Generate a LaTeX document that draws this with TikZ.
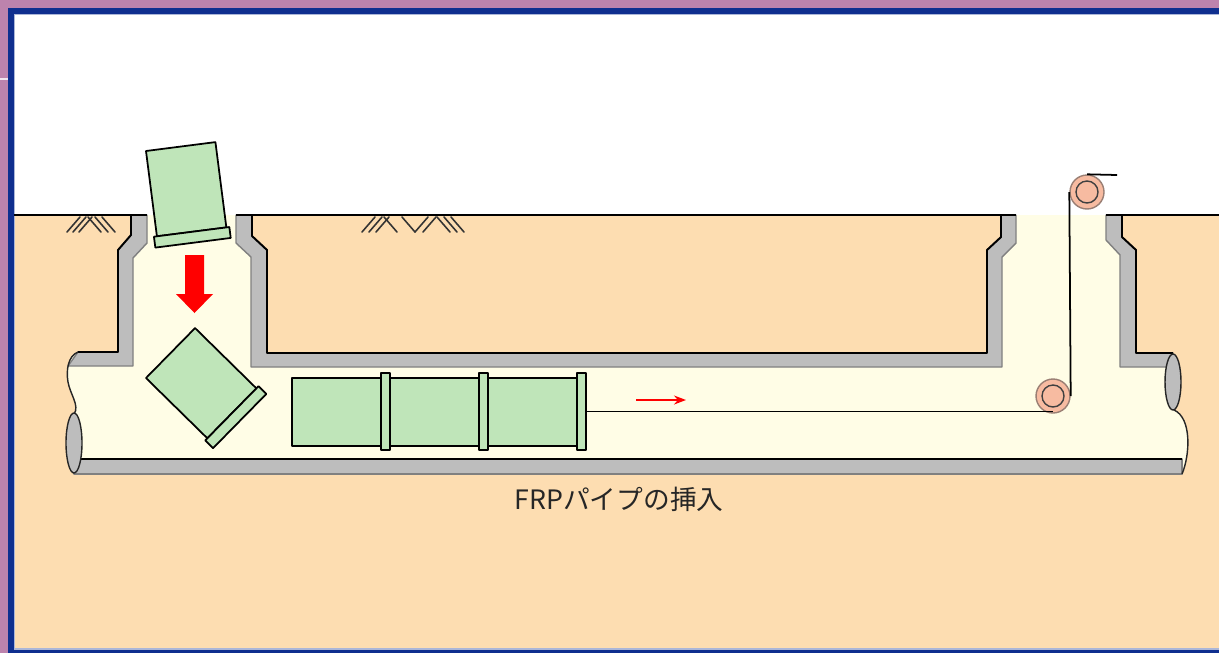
\documentclass[tikz,border=0pt]{standalone}
\usepackage{fontspec}
\newfontfamily\jpfont{Noto Sans CJK JP}
\usepackage{tikz}
\usetikzlibrary{arrows.meta}
\definecolor{slidebg}{HTML}{BD83AD}
\definecolor{frame}{HTML}{0F2F8F}
\definecolor{soil}{HTML}{FDDDB1}
\definecolor{cream}{HTML}{FFFDE6}
\definecolor{wallgray}{HTML}{BDBDBD}
\definecolor{walledge}{HTML}{808080}
\definecolor{frpgreen}{HTML}{BFE5B9}
\definecolor{pulleyfill}{HTML}{F7BBA1}
\definecolor{pulleyedge}{HTML}{9A7F74}
\definecolor{captiontext}{HTML}{262626}
\tikzset{
  wall/.style={fill=wallgray, draw=walledge, line width=0.8pt, line join=round},
  rim/.style={draw=black, line width=1.1pt, line join=round},
  cutline/.style={draw=black!85, line width=0.8pt},
  cutend/.style={fill=wallgray, draw=black!85, line width=0.8pt},
  hatch/.style={draw=black!80, line width=0.9pt, line cap=round},
  frp/.style={fill=frpgreen, draw=black, line width=1pt, line join=round},
  frpbody/.style={frp, rectangle, inner sep=0pt, minimum width=1.78cm, minimum height=1.36cm},
  frpcollar/.style={frp, rectangle, inner sep=0pt, minimum width=0.18cm, minimum height=1.54cm},
  pulley/.style={circle, fill=pulleyfill, draw=pulleyedge, line width=0.8pt, inner sep=0pt, minimum size=0.68cm},
  pulleyring/.style={draw=black!75, line width=0.8pt},
  cable/.style={draw=black, line width=1pt},
  caption/.style={text=captiontext, font=\jpfont\fontsize{15.2}{18}\selectfont, inner sep=0pt},
}

\begin{document}
\begin{tikzpicture}[x=0.02cm, y=-0.02cm]
  \useasboundingbox (0,0) rectangle (1219,653);

  % slide frame
  \fill[slidebg] (0,0) rectangle (1219,653);
  \fill[frame] (8,8) rectangle (1219,653);
  \draw[white!80!slidebg, line width=0.6pt] (0,79) -- (8,79);
  \fill[white] (14,14) rectangle (1219,215);
  \fill[soil] (14,215) rectangle (1219,650);
  \draw[frame!35!white, line width=0.6pt] (1219,14.5) -- (14.5,14.5) -- (14.5,649) -- (1219,649);

  % shafts and pipe interior
  \fill[cream] (133,215) rectangle (251,367);
  \fill[cream] (1002,215) rectangle (1120,367);
  \fill[cream] (78,352) .. controls (68,356) and (66,370) .. (68,382)
    .. controls (70,394) and (80,406) .. (74,414) -- (74,474) -- (1182,474)
    .. controls (1190,455) and (1192,418) .. (1174,410) -- (1173,353) -- cycle;

  % walls
  \filldraw[wall] (131,215) -- (131,235) -- (118,250) -- (118,352) -- (78,352) -- (68,366)
    -- (133,366) -- (133,258) -- (147,243) -- (147,215) -- cycle;
  \filldraw[wall] (236,215) -- (236,243) -- (251,257) -- (251,367) -- (1002,367) -- (1002,257)
    -- (1016,243) -- (1016,215) -- (1001,215) -- (1001,237) -- (987,250) -- (987,353)
    -- (267,353) -- (267,250) -- (252,236) -- (252,215) -- cycle;
  \filldraw[wall] (1106,215) -- (1106,240) -- (1120,255) -- (1120,367) -- (1173,367)
    -- (1173,353) -- (1136,353) -- (1136,250) -- (1122,237) -- (1122,215) -- cycle;
  \filldraw[wall] (74,459) rectangle (1182,474);

  % soil side of the walls
  \draw[rim] (131,215) -- (131,235) -- (118,250) -- (118,352) -- (78,352);
  \draw[rim] (252,215) -- (252,236) -- (267,250) -- (267,353) -- (987,353) -- (987,250)
    -- (1001,237) -- (1001,215);
  \draw[rim] (1122,215) -- (1122,237) -- (1136,250) -- (1136,353) -- (1173,353);
  \draw[rim] (74,459) -- (1182,459);

  % cut ends
  \draw[cutline] (78,352) .. controls (68,356) and (66,370) .. (68,382)
    .. controls (70,394) and (80,406) .. (74,414);
  \draw[cutline] (1174,410) .. controls (1192,418) and (1190,455) .. (1182,474);
  \filldraw[cutend] (74,443) ellipse[x radius=8, y radius=30];
  \filldraw[cutend] (1173,382) ellipse[x radius=8, y radius=28];

  % ground
  \draw[rim] (14,215) -- (147,215);
  \draw[rim] (236,215) -- (1016,215);
  \draw[rim] (1106,215) -- (1219,215);
  \foreach \x in {67,73,79,362,369,376,415,423}
    \draw[hatch] (\x,232) -- ++(13,-15);
  \foreach \x in {88,95,102,384,402,437,444,451}
    \draw[hatch] (\x,217) -- ++(13,15);

  % pipe going down the shaft
  \begin{scope}[shift={(146,151)}, rotate=7.3]
    \draw[frp] (0,0) rectangle (70,86);
    \draw[frp] (-3,86) rectangle (73,97);
  \end{scope}
  \fill[red] (185,255) -- (204,255) -- (204,294) -- (213,294) -- (194.5,313) -- (176,294)
    -- (185,294) -- cycle;
  \begin{scope}[shift={(146,378)}, rotate=45.5]
    \draw[frp] (0,0) rectangle (70,86);
    \draw[frp] (-3,86) rectangle (73,97);
  \end{scope}

  % pipes in the culvert
  \foreach \i/\x in {1/292,2/390,3/488} {
    \node[frpbody] (pipe\i) at (\x+44.5,412) {};
    \node[frpcollar] (collar\i) at (\x+93.5,411.5) {};
  }

  % winch
  \node[pulley] (lowerpulley) at (1053,396) {};
  \node[pulley] (upperpulley) at (1087,192) {};
  \draw[pulleyring] (lowerpulley.center) circle[radius=0.22cm];
  \draw[pulleyring] (upperpulley.center) circle[radius=0.22cm];
  \coordinate (cableend) at (1117,175);
  \draw[cable] (collar3.east) -- (collar3.east -| lowerpulley.south);
  \draw[cable] (lowerpulley.east) -- (upperpulley.west);
  \draw[cable] (upperpulley.north) -- (cableend);

  \coordinate (pullfrom) at (636,400);
  \coordinate (pullto) at (686,400);
  \draw[red, line width=0.9pt, -{Stealth[length=2.4mm, width=1.8mm]}] (pullfrom) -- (pullto);

  \node[caption] (title) at (619,499) {FRPパイプの挿入};
\end{tikzpicture}
\end{document}
